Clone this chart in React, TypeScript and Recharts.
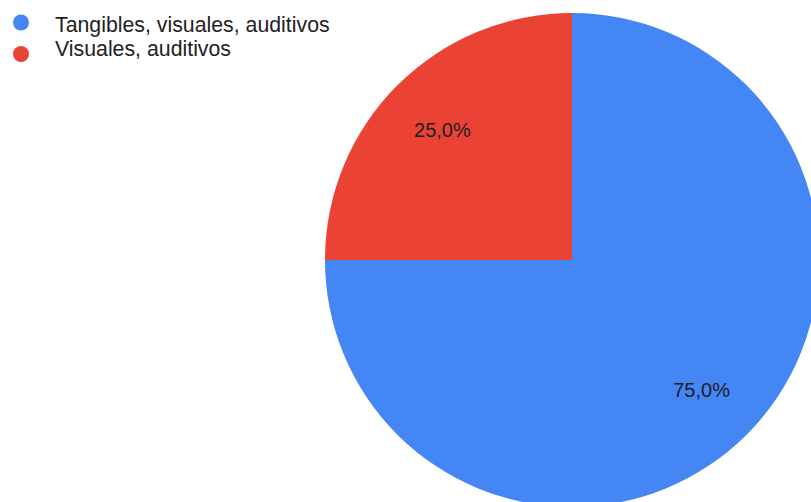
import React from "react";
import { PieChart, Pie, Cell } from "recharts";

const categories = ["Tangibles, visuales, auditivos", "Visuales, auditivos"];
const values = [75, 25];
const labels = ["75,0%", "25,0%"];
const colors = ["#4486f4", "#ea4335"];

const data = categories.map((name, i) => ({ name, value: values[i], label: labels[i] }));

const RAD = Math.PI / 180;
const FONT = "'Liberation Sans', Arial, sans-serif";

const renderLabel = (props: any) => {
  const { cx, cy, midAngle, outerRadius, index } = props;
  const r = outerRadius * 0.742;
  const x = cx + r * Math.cos(-midAngle * RAD);
  const y = cy + r * Math.sin(-midAngle * RAD);
  return (
    <text
      x={x}
      y={y}
      textAnchor="middle"
      dominantBaseline="central"
      fill="#1e1e24"
      fontSize={20}
      fontFamily={FONT}
    >
      {data[index].label}
    </text>
  );
};

const legendRows = [
  { textY: 24.5, dotY: 22.5 },
  { textY: 49, dotY: 54 },
];

export default function App() {
  return (
    <div style={{ position: "absolute", left: 0, top: 0, width: 811, height: 502, overflow: "hidden", background: "#fff" }}>
      <PieChart width={811} height={502} margin={{ top: 0, right: 0, bottom: 0, left: 0 }}>
        <Pie
          data={data}
          dataKey="value"
          nameKey="name"
          cx={572}
          cy={260}
          outerRadius={247}
          startAngle={90}
          endAngle={-270}
          stroke="none"
          label={renderLabel}
          labelLine={false}
          isAnimationActive={false}
        >
          {data.map((d, i) => (
            <Cell key={d.name} fill={colors[i]} />
          ))}
        </Pie>
      </PieChart>
      <svg width={811} height={502} style={{ position: "absolute", left: 0, top: 0, pointerEvents: "none" }}>
        {data.map((d, i) => (
          <g key={d.name}>
            <circle cx={21} cy={legendRows[i].dotY} r={8} fill={colors[i]} />
            <text
              x={55}
              y={legendRows[i].textY}
              dominantBaseline="central"
              fontSize={21.3}
              fontFamily={FONT}
              fill="#222"
            >
              {d.name}
            </text>
          </g>
        ))}
      </svg>
    </div>
  );
}
